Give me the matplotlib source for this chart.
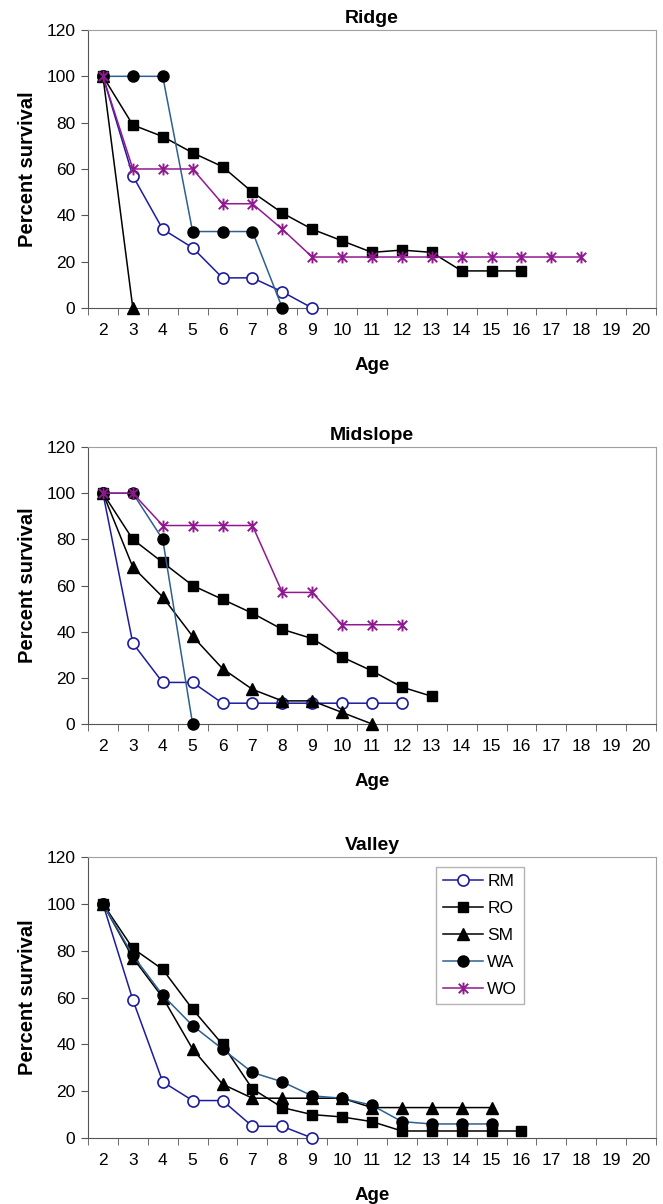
import matplotlib
matplotlib.use("Agg")
import matplotlib.pyplot as plt
from matplotlib.path import Path
import numpy as np

plt.rcParams['font.family'] = ['Liberation Sans', 'DejaVu Sans']

ages = list(range(2, 21))

# Ridge
ridge_rm = [100, 57, 34, 26, 13, 13, 7, 0]
ridge_ro = [100, 79, 74, 67, 61, 50, 41, 34, 29, 24, 25, 24, 16, 16, 16]
ridge_sm = [100, 0]
ridge_wa = [100, 100, 100, 33, 33, 33, 0]
ridge_wo = [100, 60, 60, 60, 45, 45, 34, 22, 22, 22, 22, 22, 22, 22, 22, 22, 22]

# Midslope
mid_rm = [100, 35, 18, 18, 9, 9, 9, 9, 9, 9, 9]
mid_ro = [100, 80, 70, 60, 54, 48, 41, 37, 29, 23, 16, 12]
mid_sm = [100, 68, 55, 38, 24, 15, 10, 10, 5, 0]
mid_wa = [100, 100, 80, 0]
mid_wo = [100, 100, 86, 86, 86, 86, 57, 57, 43, 43, 43]

# Valley
val_rm = [100, 59, 24, 16, 16, 5, 5, 0]
val_ro = [100, 81, 72, 55, 40, 21, 13, 10, 9, 7, 3, 3, 3, 3, 3]
val_sm = [100, 77, 60, 38, 23, 17, 17, 17, 17, 13, 13, 13, 13, 13]
val_wa = [100, 78, 61, 48, 38, 28, 24, 18, 17, 14, 7, 6, 6, 6]
val_wo = []

panels = [
    ("Ridge", [ridge_rm, ridge_ro, ridge_sm, ridge_wa, ridge_wo]),
    ("Midslope", [mid_rm, mid_ro, mid_sm, mid_wa, mid_wo]),
    ("Valley", [val_rm, val_ro, val_sm, val_wa, val_wo]),
]

# Excel-style star: an x with a vertical bar
star = Path([(-1, -1), (1, 1), (-1, 1), (1, -1), (0, -1.25), (0, 1.25)],
            [Path.MOVETO, Path.LINETO, Path.MOVETO, Path.LINETO, Path.MOVETO, Path.LINETO])

names = ["RM", "RO", "SM", "WA", "WO"]
styles = {
    "RM": dict(color="#1c1c9c", marker="o", mfc="white", mec="#1c1c9c", mew=1.2, ms=8),
    "RO": dict(color="black", marker="s", mfc="black", mec="black", ms=7.5),
    "SM": dict(color="black", marker="^", mfc="black", mec="black", ms=8.5),
    "WA": dict(color="#2d6090", marker="o", mfc="black", mec="black", ms=8),
    "WO": dict(color="#901890", marker=star, mfc="none", mec="#901890", mew=1.4, ms=8.5),
}

fig = plt.figure(figsize=(6.63, 12.04), dpi=100)
boxes = [(0.9751, 0.7442), (0.6287, 0.3987), (0.2882, 0.0548)]

for (title, series), (top, bot) in zip(panels, boxes):
    ax = fig.add_axes([0.1327, bot, 0.9894 - 0.1327, top - bot])
    handles = []
    for name, vals in zip(names, series):
        x = ages[:len(vals)]
        ln, = ax.plot(x, vals, lw=1.1, zorder=3, clip_on=False, **styles[name])
        handles.append(ln)
    ax.set_xlim(1.5, 20.5)
    ax.set_ylim(0, 120)
    ax.set_yticks(range(0, 121, 20))
    ax.set_xticks(ages)
    ax.set_xticks(np.arange(1.5, 21, 1), minor=True)
    ax.tick_params(axis="x", which="major", length=0, pad=11, labelsize=12.5)
    ax.tick_params(axis="x", which="minor", length=5, direction="out", color="#555555")
    ax.tick_params(axis="y", length=5, direction="out", labelsize=12.5, pad=4, color="#555555")
    for s in ["top", "right"]:
        ax.spines[s].set_color("#a0a0a0")
    for s in ["left", "bottom"]:
        ax.spines[s].set_color("#555555")
    ax.set_title(title, fontsize=14, fontweight="bold", pad=5)
    ax.set_xlabel("Age", fontsize=13.5, fontweight="bold", labelpad=13.5)
    ax.set_ylabel("Percent survival", fontsize=14.5, fontweight="bold", labelpad=7)
    if title == "Valley":
        leg = ax.legend(handles, names, loc="upper left", bbox_to_anchor=(0.613, 0.964),
                        fontsize=12.5, frameon=True, fancybox=False, edgecolor="#a0a0a0",
                        handlelength=2.3, handletextpad=0.25, labelspacing=0.68,
                        borderpad=0.4, borderaxespad=0)
        leg.get_frame().set_linewidth(1.0)

fig.savefig("out.png", dpi=100)
